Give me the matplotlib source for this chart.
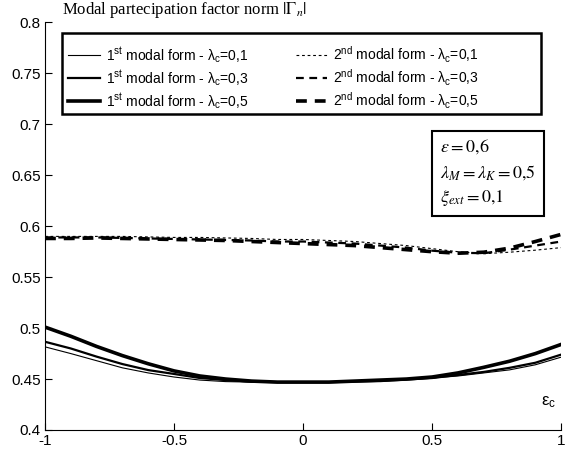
import numpy as np
import matplotlib
matplotlib.use("Agg")
import matplotlib.pyplot as plt
from matplotlib.patches import Rectangle

plt.rcParams['font.family'] = ['Liberation Sans', 'DejaVu Sans']
plt.rcParams['mathtext.fontset'] = 'custom'
plt.rcParams['mathtext.rm'] = 'Liberation Sans'
plt.rcParams['mathtext.it'] = 'Liberation Sans:italic'

# eccentricity eps_c from -1 to 1
eps_c = [-1.0, -0.9, -0.8, -0.7, -0.6, -0.5, -0.4, -0.3, -0.2, -0.1, 0.0,
         0.1, 0.2, 0.3, 0.4, 0.5, 0.6, 0.7, 0.8, 0.9, 1.0]

# first modal form
first_01 = [0.4816, 0.475, 0.468, 0.461, 0.456, 0.452, 0.449, 0.4475, 0.447, 0.447, 0.447,
            0.447, 0.4475, 0.448, 0.4495, 0.451, 0.453, 0.456, 0.459, 0.464, 0.4715]
first_03 = [0.4866, 0.480, 0.472, 0.4647, 0.4588, 0.455, 0.451, 0.449, 0.4475, 0.447, 0.447,
            0.447, 0.4475, 0.448, 0.4495, 0.451, 0.454, 0.457, 0.461, 0.466, 0.474]
first_05 = [0.501, 0.492, 0.482, 0.473, 0.465, 0.458, 0.453, 0.450, 0.448, 0.447, 0.447,
            0.447, 0.448, 0.449, 0.450, 0.452, 0.456, 0.4615, 0.4675, 0.475, 0.484]

# second modal form
second_01 = [0.590, 0.590, 0.590, 0.590, 0.5895, 0.589, 0.589, 0.5885, 0.588, 0.587, 0.587,
             0.586, 0.585, 0.583, 0.581, 0.578, 0.575, 0.573, 0.5745, 0.5765, 0.579]
second_03 = [0.589, 0.589, 0.589, 0.5885, 0.588, 0.5875, 0.587, 0.5865, 0.586, 0.585, 0.585,
             0.584, 0.583, 0.581, 0.579, 0.576, 0.574, 0.5735, 0.577, 0.581, 0.585]
second_05 = [0.588, 0.588, 0.5885, 0.588, 0.5875, 0.587, 0.5865, 0.586, 0.585, 0.584, 0.583,
             0.582, 0.581, 0.579, 0.577, 0.575, 0.5735, 0.5745, 0.5785, 0.585, 0.592]

labels_first = [r'1$^{\rm st}$ modal form - $\mathrm{\lambda_c}$=0,1',
                r'1$^{\rm st}$ modal form - $\mathrm{\lambda_c}$=0,3',
                r'1$^{\rm st}$ modal form - $\mathrm{\lambda_c}$=0,5']
labels_second = [r'2$^{\rm nd}$ modal form - $\mathrm{\lambda_c}$=0,1',
                 r'2$^{\rm nd}$ modal form - $\mathrm{\lambda_c}$=0,3',
                 r'2$^{\rm nd}$ modal form - $\mathrm{\lambda_c}$=0,5']

fig = plt.figure(figsize=(5.66, 4.54), dpi=100)
ax = fig.add_axes([0.0795, 0.0529, 0.912, 0.8976])

widths = [0.8, 1.6, 2.6]
dashes = [(2.5, 2.5), (3.5, 2.5), (3.0, 2.2)]
for y, lw, lab in zip([first_01, first_03, first_05], widths, labels_first):
    ax.plot(eps_c, y, color='black', lw=lw, label=lab)
for y, lw, d, lab in zip([second_01, second_03, second_05], widths, dashes, labels_second):
    ax.plot(eps_c, y, color='black', lw=lw, dashes=d, label=lab)

ax.set_xlim(-1, 1)
ax.set_ylim(0.4, 0.8)
ax.set_xticks([-1, -0.5, 0, 0.5, 1])
ax.set_xticklabels(['-1', '-0.5', '0', '0.5', '1'])
ax.set_yticks(np.arange(0.4, 0.801, 0.05))
ax.set_yticklabels(['0.4', '0.45', '0.5', '0.55', '0.6', '0.65', '0.7', '0.75', '0.8'])
ax.tick_params(direction='in', length=5, width=0.8, labelsize=11, pad=3)
ax.spines['top'].set_visible(False)
ax.spines['right'].set_visible(False)

# legend frame drawn by hand, legend itself frameless
ax.add_patch(Rectangle((0.033, 0.775), 0.928, 0.199, transform=ax.transAxes,
                       fc='white', ec='black', lw=1.8, zorder=4))
leg = ax.legend(ncol=2, loc='upper left', bbox_to_anchor=(0.045, 0.946),
                borderaxespad=0, borderpad=0, fontsize=10, handlelength=2.3,
                handletextpad=0.4, columnspacing=3.4, labelspacing=0.2, frameon=False)
leg.set_zorder(5)

ax.text(0.765, 0.718, r'$\varepsilon = 0{,}6$' + '\n' + r'$\lambda_M = \lambda_K = 0{,}5$' + '\n'
        + r'$\xi_{ext} = 0{,}1$', transform=ax.transAxes, ha='left', va='top',
        fontsize=13, math_fontfamily='stix', linespacing=1.45,
        bbox=dict(boxstyle='square,pad=0.45', fc='white', ec='black', lw=1.5))

ax.text(0.975, 0.05, r'$\mathregular{\epsilon_c}$', transform=ax.transAxes,
        ha='center', va='bottom', fontsize=12)

fig.text(0.11, 0.977, r'Modal partecipation factor norm $|\Gamma_n|$', ha='left', va='center',
         fontsize=12, family='Liberation Serif', math_fontfamily='stix')

fig.savefig('out.png', dpi=100)
